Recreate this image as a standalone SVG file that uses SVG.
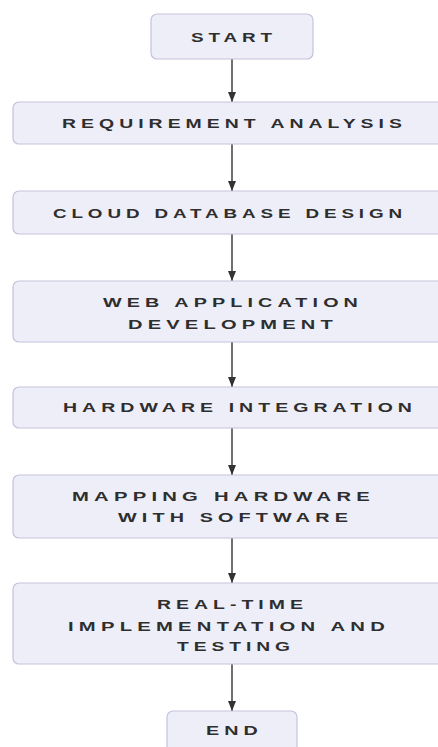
<svg xmlns="http://www.w3.org/2000/svg" width="438" height="747" viewBox="0 0 438 747">
  <defs>
    <style>
      .box { fill: #eeeef9; stroke: #c6c2da; stroke-width: 1.2; }
      .lbl { font-family: "Liberation Sans", Arial, sans-serif; font-size: 13.5px; font-weight: bold; letter-spacing: 3.5px; fill: #2e2e2e; }
      .conn { stroke: #333333; stroke-width: 1.4; fill: none; marker-end: url(#arrow); }
    </style>
    <marker id="arrow" viewBox="0 0 10 8" refX="10" refY="4" markerWidth="10" markerHeight="8" markerUnits="userSpaceOnUse" orient="auto">
      <path d="M0,0 L10,4 L0,8 Z" fill="#333333"/>
    </marker>
  </defs>
  <rect width="438" height="747" fill="#ffffff"/>

  <g id="connectors">
    <line class="conn" x1="232" y1="59" x2="232" y2="102"/>
    <line class="conn" x1="232" y1="144" x2="232" y2="191"/>
    <line class="conn" x1="232" y1="234" x2="232" y2="281"/>
    <line class="conn" x1="232" y1="342" x2="232" y2="387"/>
    <line class="conn" x1="232" y1="428" x2="232" y2="475"/>
    <line class="conn" x1="232" y1="538" x2="232" y2="583"/>
    <line class="conn" x1="232" y1="664" x2="232" y2="711"/>
  </g>

  <g id="start">
    <rect class="box" x="151" y="14" width="162" height="45" rx="6"/>
    <text class="lbl" x="191" y="42" textLength="86" lengthAdjust="spacingAndGlyphs">START</text>
  </g>
  <g id="requirement-analysis">
    <rect class="box" x="13" y="102" width="438" height="42" rx="6"/>
    <text class="lbl" x="62" y="127.5" textLength="345" lengthAdjust="spacingAndGlyphs">REQUIREMENT ANALYSIS</text>
  </g>
  <g id="cloud-database-design">
    <rect class="box" x="13" y="191" width="438" height="43" rx="6"/>
    <text class="lbl" x="53" y="218" textLength="354" lengthAdjust="spacingAndGlyphs">CLOUD DATABASE DESIGN</text>
  </g>
  <g id="web-application-development">
    <rect class="box" x="13" y="281" width="438" height="61" rx="6"/>
    <text class="lbl" x="103" y="307" textLength="260" lengthAdjust="spacingAndGlyphs">WEB APPLICATION</text>
    <text class="lbl" x="128" y="329" textLength="210" lengthAdjust="spacingAndGlyphs">DEVELOPMENT</text>
  </g>
  <g id="hardware-integration">
    <rect class="box" x="13" y="387" width="438" height="41" rx="6"/>
    <text class="lbl" x="63" y="412" textLength="354" lengthAdjust="spacingAndGlyphs">HARDWARE INTEGRATION</text>
  </g>
  <g id="mapping-hardware-with-software">
    <rect class="box" x="13" y="475" width="438" height="63" rx="6"/>
    <text class="lbl" x="72" y="501" textLength="303" lengthAdjust="spacingAndGlyphs">MAPPING HARDWARE</text>
    <text class="lbl" x="118" y="522" textLength="235" lengthAdjust="spacingAndGlyphs">WITH SOFTWARE</text>
  </g>
  <g id="real-time-implementation-and-testing">
    <rect class="box" x="13" y="583" width="438" height="81" rx="6"/>
    <text class="lbl" x="157" y="609" textLength="151" lengthAdjust="spacingAndGlyphs">REAL-TIME</text>
    <text class="lbl" x="68" y="631" textLength="322" lengthAdjust="spacingAndGlyphs">IMPLEMENTATION AND</text>
    <text class="lbl" x="177" y="651" textLength="118" lengthAdjust="spacingAndGlyphs">TESTING</text>
  </g>
  <g id="end">
    <rect class="box" x="167" y="711" width="130" height="50" rx="6"/>
    <text class="lbl" x="206" y="735" textLength="57" lengthAdjust="spacingAndGlyphs">END</text>
  </g>
</svg>
